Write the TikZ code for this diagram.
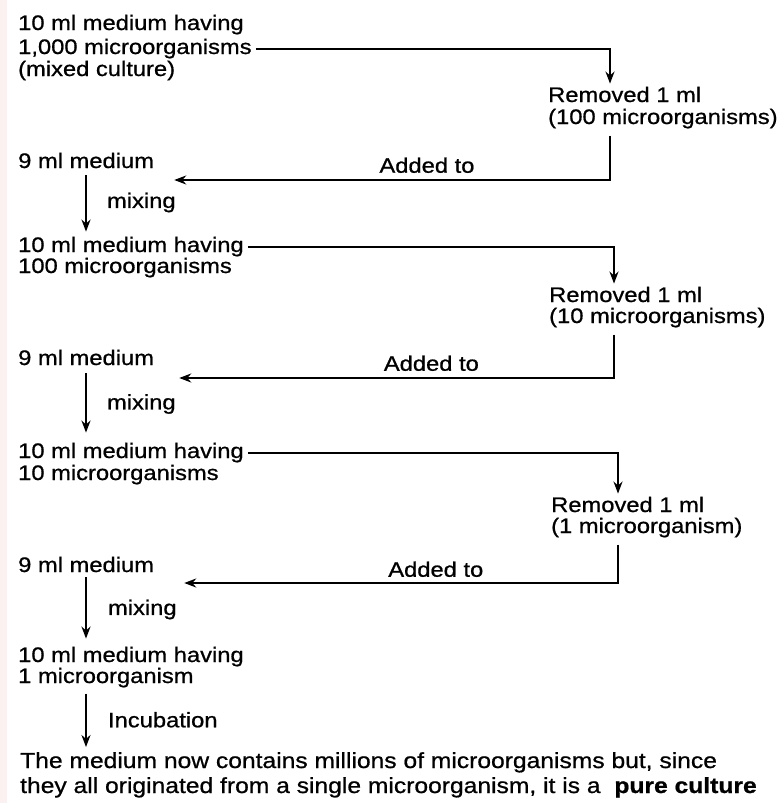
\documentclass[tikz,border=0pt]{standalone}
\usepackage{fontspec}
\setmainfont{Liberation Sans}[FakeStretch=1.13, FakeBold=0.8]
\usetikzlibrary{arrows.meta}
\definecolor{stripcol}{RGB}{252,241,241}

\begin{document}
\begin{tikzpicture}[
   x=1pt, y=-1pt,
   every node/.style={inner sep=0pt, anchor=base west, font=\fontsize{21pt}{22pt}\selectfont},
   flow/.style={line width=2.1pt, -{Stealth[length=12pt, width=9pt]}},
   closing/.style={font=\fontsize{21.8pt}{22pt}\selectfont}]

\fill[stripcol] (0,0) rectangle (7,803);
\useasboundingbox (0,0) rectangle (780,803);

% columns for the vertical lines
\coordinate (spine) at (86,0);
\coordinate (drop1) at (610,0);
\coordinate (drop2) at (614,0);
\coordinate (drop3) at (618,0);

% first dilution
\node (a1) at (18,30) {10 ml medium having};
\node (a2) at (18,54) {1,000 microorganisms};
\node (a3) at (18,76) {(mixed culture)};
\node (r1a) at (548,102) {Removed 1 ml};
\node (r1b) at (548,124) {(100 microorganisms)};
\node (n1) at (18,168) {9 ml medium};

\draw[flow, shorten <=4pt, shorten >=3pt] (a2.east) -| (r1a.north -| drop1);
\draw[flow, shorten <=7pt] (r1b.south -| drop1) |- ([xshift=20pt, yshift=-12pt]n1.base east)
    node[pos=.71, above=6pt] {Added to};

% second dilution
\node (b1) at (18,252) {10 ml medium having};
\node (b2) at (18,273) {100 microorganisms};
\node (r2a) at (549,302) {Removed 1 ml};
\node (r2b) at (549,323) {(10 microorganisms)};
\node (n2) at (18,365) {9 ml medium};

\draw[flow, shorten <=7pt, shorten >=5pt] (n1.south -| spine) -- (b1.north -| spine)
    node[midway, right=20pt] {mixing};
\draw[flow, shorten <=4pt, shorten >=3pt] (b1.east) -| (r2a.north -| drop2);
\draw[flow, shorten <=7pt] (r2b.south -| drop2) |- ([xshift=25pt, yshift=-13pt]n2.base east)
    node[pos=.71, above=6pt] {Added to};

% third dilution
\node (c1) at (18,458) {10 ml medium having};
\node (c2) at (18,480) {10 microorganisms};
\node (r3a) at (551,512) {Removed 1 ml};
\node (r3b) at (551,533) {(1 microorganism)};
\node (n3) at (18,572) {9 ml medium};

\draw[flow, shorten <=8pt, shorten >=10pt] (n2.south -| spine) -- (c1.north -| spine)
    node[midway, right=20pt] {mixing};
\draw[flow, shorten <=4pt, shorten >=3pt] (c1.east) -| (r3a.north -| drop3);
\draw[flow, shorten <=7pt] (r3b.south -| drop3) |- ([xshift=30pt, yshift=-11pt]n3.base east)
    node[pos=.71, above=5pt] {Added to};

% last step
\node (d1) at (18,662) {10 ml medium having};
\node (d2) at (18,683) {1 microorganism};
\node[closing] (f1) at (20,768) {The medium now contains millions of microorganisms but, since};
\node[closing] (f2) at (20,793) {they all originated from a single microorganism, it is a\ \ \textbf{pure culture}};

\draw[flow, shorten <=5pt, shorten >=8pt] (n3.south -| spine) -- (d1.north -| spine)
    node[midway, right=21pt] {mixing};
\draw[flow, shorten <=6pt, shorten >=5pt] (d2.south -| spine) -- (f1.north -| spine)
    node[midway, right=21pt] {Incubation};

\end{tikzpicture}
\end{document}
